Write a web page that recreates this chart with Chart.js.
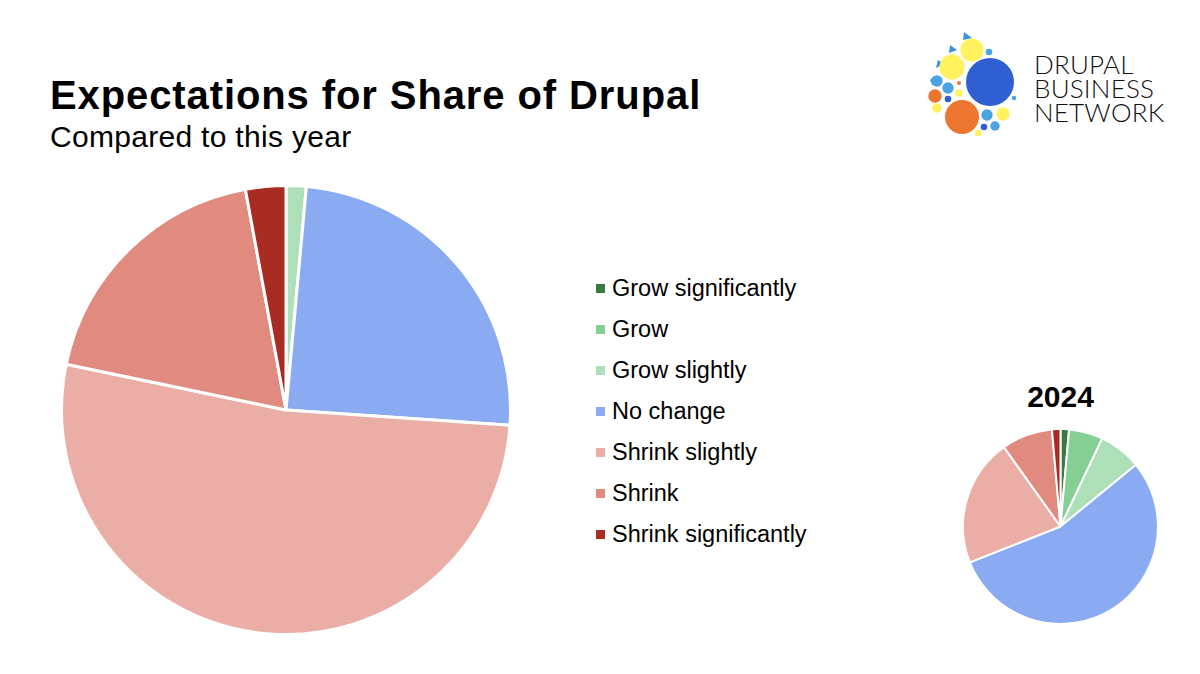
<!DOCTYPE html>
<html>
<head>
<meta charset="utf-8">
<script src="https://cdn.jsdelivr.net/npm/chart.js@4.4.1/dist/chart.umd.min.js"></script>
<style>
  html, body { margin: 0; padding: 0; background: #ffffff; }
  body { width: 1200px; height: 674px; position: relative; overflow: hidden;
         font-family: "Liberation Sans", Arial, Helvetica, sans-serif; color: #000; }
  #title { position: absolute; left: 50px; top: 75px; font-size: 40px; line-height: 40px;
           font-weight: bold; letter-spacing: 0.9px; white-space: nowrap; }
  #subtitle { position: absolute; left: 50px; top: 122px; font-size: 30px; line-height: 30px;
              letter-spacing: 0.3px; white-space: nowrap; }
  #main-wrap { position: absolute; left: 58px; top: 182px; width: 456px; height: 456px; }
  #small-wrap { position: absolute; left: 960px; top: 426px; width: 201px; height: 201px; }
  #small-title { position: absolute; left: 960px; width: 201px; top: 382px; text-align: center;
                 font-size: 30px; line-height: 30px; font-weight: bold; }
  #legend { position: absolute; left: 596px; top: 274px; margin: 0; padding: 0; list-style: none; }
  #legend li { height: 41px; line-height: 28px; font-size: 23.5px; white-space: nowrap; }
  #legend .box { display: inline-block; width: 9px; height: 9px; margin-right: 7px; vertical-align: 3px; }
  #logo { position: absolute; left: 920px; top: 28px; }
  #logo-text { position: absolute; left: 1034px; top: 52px; font-family: Lato, "Open Sans", sans-serif;
               font-weight: 300; font-size: 26px; line-height: 24px; letter-spacing: 0.2px; color: #111; }
</style>
</head>
<body>
<div id="title">Expectations for Share of Drupal</div>
<div id="subtitle">Compared to this year</div>

<svg id="logo" width="110" height="112" viewBox="920 28 110 112">
  <g fill="#3d8fe0">
    <polygon points="964,32 972,38 963,40"/>
    <polygon points="950,45 957,50 949,53"/>
    <polygon points="938,60 944,64 936,68"/>
    <polygon points="930,80 934,76 933,86"/>
  </g>
  <circle cx="990" cy="82" r="24" fill="#2f5fd0"/>
  <circle cx="962" cy="117" r="17" fill="#ec7530"/>
  <circle cx="972" cy="50" r="11.5" fill="#fff25c"/>
  <circle cx="952" cy="67" r="12.5" fill="#fff25c"/>
  <circle cx="989" cy="52" r="3.3" fill="#4aa3e2"/>
  <circle cx="937" cy="81" r="5.7" fill="#4aa3e2"/>
  <circle cx="948" cy="88" r="5.7" fill="#4aa3e2"/>
  <circle cx="935" cy="96" r="6.7" fill="#ec7530"/>
  <circle cx="959" cy="83" r="2" fill="#ec7530"/>
  <circle cx="959" cy="93" r="3.7" fill="#fff25c"/>
  <circle cx="948" cy="99" r="3.3" fill="#2f5fd0"/>
  <circle cx="937" cy="108" r="4.7" fill="#fff25c"/>
  <circle cx="987" cy="115" r="5.7" fill="#4aa3e2"/>
  <circle cx="1003" cy="114" r="6.7" fill="#fff25c"/>
  <circle cx="1014" cy="98" r="2.3" fill="#4aa3e2"/>
  <circle cx="984" cy="127" r="3.3" fill="#2f5fd0"/>
  <circle cx="995" cy="126" r="4.7" fill="#4aa3e2"/>
  <circle cx="978" cy="133" r="3.3" fill="#fff25c"/>
</svg>
<div id="logo-text">DRUPAL<br>BUSINESS<br>NETWORK</div>

<div id="main-wrap"><canvas id="main-canvas"></canvas></div>
<ul id="legend"></ul>
<div id="small-title">2024</div>
<div id="small-wrap"><canvas id="small-canvas"></canvas></div>

<script>
// Answer categories, in the order they go round the pie (clockwise from 12 o'clock)
const categories = [
  "Grow significantly",
  "Grow",
  "Grow slightly",
  "No change",
  "Shrink slightly",
  "Shrink",
  "Shrink significantly"
];

// Responses this year
const thisYear = [0, 0, 1, 17, 36, 13, 2];

// Responses 2024
const lastYear = [1, 4, 5, 39, 15, 6, 1];

const sliceColors = [
  "#3c7a45",
  "#86cf94",
  "#addfb8",
  "#8aabf1",
  "#eaaea6",
  "#e08a80",
  "#a82c22"
];

// Legend built from the same arrays
const legend = document.getElementById("legend");
categories.forEach(function(name, i) {
  const li = document.createElement("li");
  const box = document.createElement("span");
  box.className = "box";
  box.style.background = sliceColors[i];
  li.appendChild(box);
  li.appendChild(document.createTextNode(name));
  legend.appendChild(li);
});

function makePie(canvasId, values, border) {
  const ctx = document.getElementById(canvasId).getContext("2d");
  return new Chart(ctx, {
    type: "pie",
    data: {
      labels: categories,
      datasets: [{
        data: values,
        backgroundColor: sliceColors,
        borderColor: "#ffffff",
        borderWidth: border
      }]
    },
    options: {
      responsive: true,
      maintainAspectRatio: false,
      animation: false,
      layout: { padding: 2 },
      plugins: {
        legend: { display: false },
        tooltip: { enabled: false }
      }
    }
  });
}

makePie("main-canvas", thisYear, 3);
makePie("small-canvas", lastYear, 2);
</script>
</body>
</html>
